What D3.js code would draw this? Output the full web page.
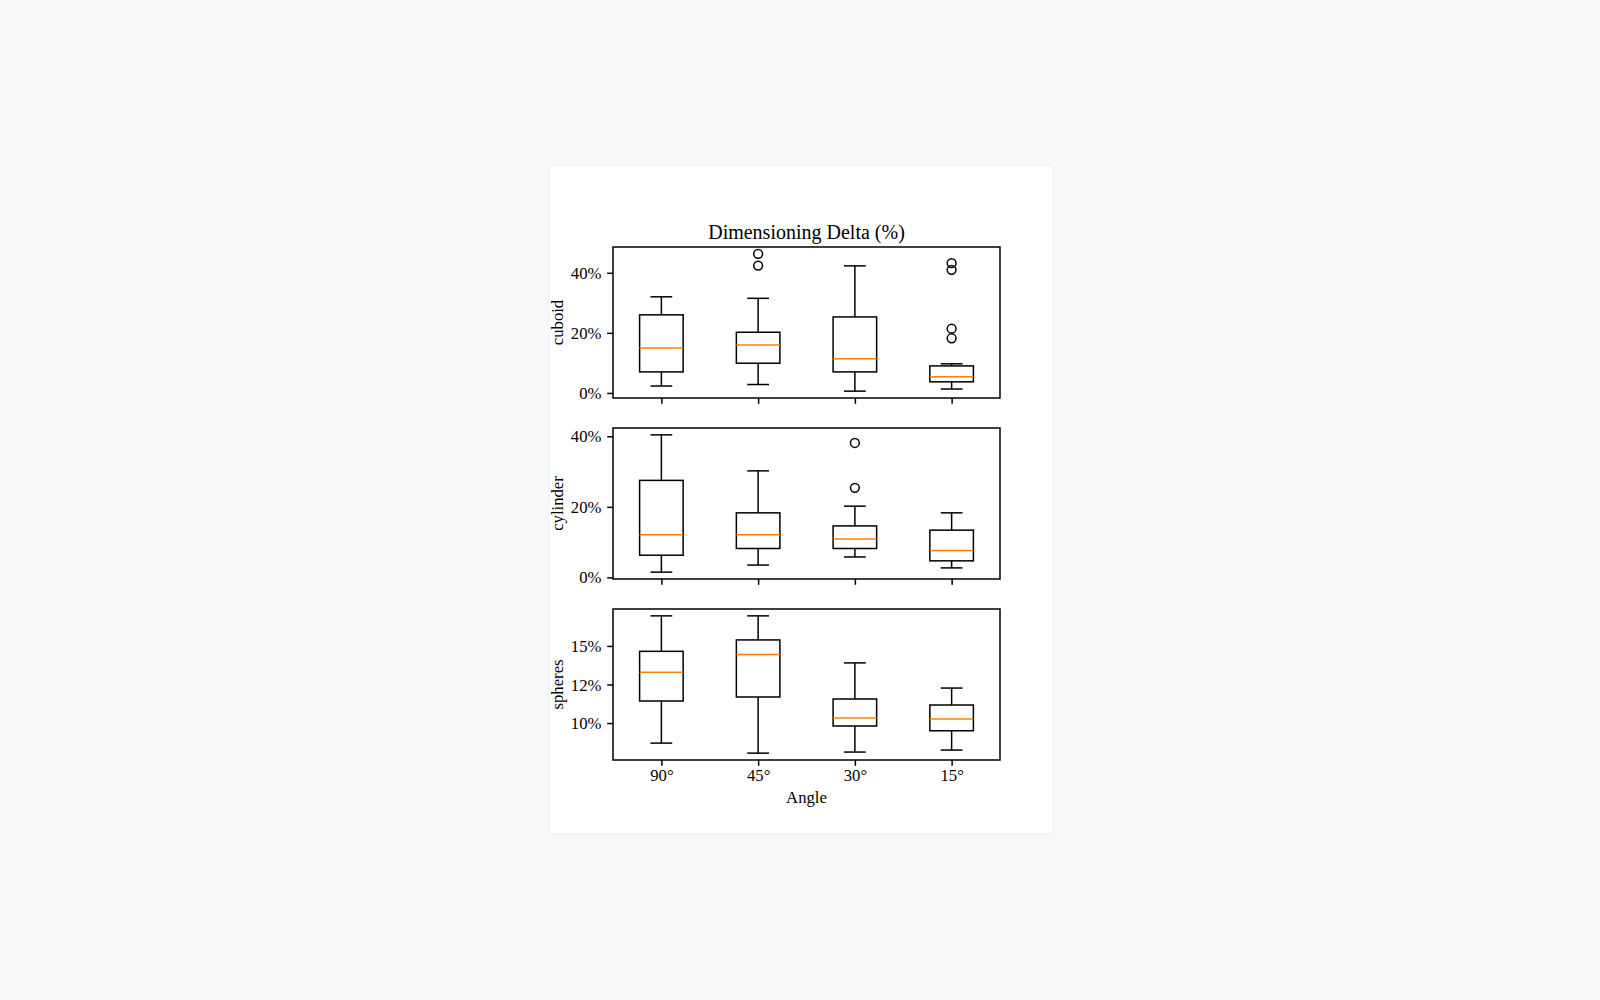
<!DOCTYPE html>
<html>
<head>
<meta charset="utf-8">
<script src="https://cdn.jsdelivr.net/npm/d3@7"></script>
<style>
  html, body { margin: 0; padding: 0; background: #f8f9fb; }
  svg { display: block; }
  text { font-family: "Liberation Serif", "Times New Roman", "DejaVu Serif", serif; fill: #000; }
</style>
</head>
<body>
<svg id="chart" width="1600" height="1000"></svg>
<script>
// ---------------- data ----------------
const categories = ["90°", "45°", "30°", "15°"];
const shapes = ["cuboid", "cylinder", "spheres"];

// per category: [whiskerLow, Q1, median, Q3, whiskerHigh]  (percent)
const cuboidStats = [
  [2.3, 7.0, 15.0, 26.0, 32.0],
  [2.8, 9.9, 16.0, 20.2, 31.5],
  [0.6, 7.0, 11.4, 25.3, 42.3],
  [1.3, 3.7, 5.4, 9.0, 9.7]
];
const cuboidOutliers = [[], [46.3, 42.4], [], [43.2, 41.0, 21.4, 18.2]];

const cylinderStats = [
  [1.5, 6.3, 12.1, 27.5, 40.4],
  [3.5, 8.2, 12.1, 18.3, 30.2],
  [5.8, 8.2, 10.9, 14.6, 20.2],
  [2.7, 4.7, 7.6, 13.4, 18.3]
];
const cylinderOutliers = [[], [], [38.1, 25.4], []];

const spheresStats = [
  [8.70, 11.43, 13.29, 14.65, 16.95],
  [8.05, 11.69, 14.45, 15.39, 16.95],
  [8.12, 9.81, 10.32, 11.56, 13.90],
  [8.25, 9.50, 10.26, 11.17, 12.27]
];
const spheresOutliers = [[], [], [], []];

const cuboidTicks = [0, 20, 40];
const cuboidTickLabels = ["0%", "20%", "40%"];
const cylinderTicks = [0, 20, 40];
const cylinderTickLabels = ["0%", "20%", "40%"];
const spheresTicks = [10, 12.5, 15];
const spheresTickLabels = ["10%", "12%", "15%"];

const titleText = "Dimensioning Delta (%)";
const xLabelText = "Angle";

// ---------------- layout ----------------
const panels = [
  { name: shapes[0], stats: cuboidStats, outliers: cuboidOutliers, ticks: cuboidTicks, labels: cuboidTickLabels },
  { name: shapes[1], stats: cylinderStats, outliers: cylinderOutliers, ticks: cylinderTicks, labels: cylinderTickLabels },
  { name: shapes[2], stats: spheresStats, outliers: spheresOutliers, ticks: spheresTicks, labels: spheresTickLabels }
];

const fig = { x: 550, y: 166, w: 502, h: 667 };
const plotLeft = 613, plotRight = 1000;
const panelTops = [247, 428, 609];
const panelH = 151;
const lw = 1.5;
const tickLen = 5.8;
const fontTick = 16.7;
const medianColor = "#ff7f0e";

const svg = d3.select("#chart");

const defs = svg.append("defs");
const filt = defs.append("filter").attr("id", "shadow").attr("x", "-10%").attr("y", "-10%").attr("width", "120%").attr("height", "120%");
filt.append("feDropShadow").attr("dx", 0).attr("dy", 1).attr("stdDeviation", 2).attr("flood-color", "#000").attr("flood-opacity", 0.05);

svg.append("rect")
  .attr("x", fig.x).attr("y", fig.y).attr("width", fig.w).attr("height", fig.h)
  .attr("fill", "#ffffff").attr("filter", "url(#shadow)");

const positions = categories.map((c, i) => i + 1);
const x = d3.scaleLinear().domain([0.5, categories.length + 0.5]).range([plotLeft, plotRight]);
const boxW = 0.45, capW = boxW / 2;

panels.forEach((p, pi) => {
  const top = panelTops[pi];
  const bottom = top + panelH;
  const allVals = p.stats.flat().concat(p.outliers.flat());
  const lo = d3.min(allVals), hi = d3.max(allVals);
  const m = (hi - lo) * 0.05;
  const y = d3.scaleLinear().domain([lo - m, hi + m]).range([bottom, top]);

  const g = svg.append("g");

  // boxes
  p.stats.forEach((s, i) => {
    const cx = x(positions[i]);
    const bx0 = x(positions[i] - boxW / 2), bx1 = x(positions[i] + boxW / 2);
    const cx0 = x(positions[i] - capW / 2), cx1 = x(positions[i] + capW / 2);
    const [wl, q1, med, q3, wh] = s;
    const line = (x1, y1, x2, y2, col) => g.append("line")
      .attr("x1", x1).attr("y1", y1).attr("x2", x2).attr("y2", y2)
      .attr("stroke", col || "#000").attr("stroke-width", lw);
    // whiskers
    line(cx, y(q1), cx, y(wl));
    line(cx, y(q3), cx, y(wh));
    // caps
    line(cx0, y(wl), cx1, y(wl));
    line(cx0, y(wh), cx1, y(wh));
    // box
    g.append("rect")
      .attr("x", bx0).attr("y", y(q3)).attr("width", bx1 - bx0).attr("height", y(q1) - y(q3))
      .attr("fill", "none").attr("stroke", "#000").attr("stroke-width", lw);
    // median
    line(bx0, y(med), bx1, y(med), medianColor);
    // outliers
    p.outliers[i].forEach(v => {
      g.append("circle").attr("cx", cx).attr("cy", y(v)).attr("r", 4.4)
        .attr("fill", "none").attr("stroke", "#000").attr("stroke-width", lw);
    });
  });

  // frame
  g.append("rect")
    .attr("x", plotLeft).attr("y", top).attr("width", plotRight - plotLeft).attr("height", panelH)
    .attr("fill", "none").attr("stroke", "#000").attr("stroke-width", lw);

  // y axis
  const yAxis = d3.axisLeft(y).tickValues(p.ticks)
    .tickFormat((d, i) => p.labels[i]).tickSize(tickLen).tickPadding(5.8);
  const ya = svg.append("g").attr("transform", `translate(${plotLeft},0)`).call(yAxis);
  ya.select(".domain").remove();
  ya.selectAll(".tick line").attr("stroke", "#000").attr("stroke-width", lw);
  ya.selectAll(".tick text").attr("font-size", fontTick).attr("dy", "0.33em")
    .style("font-family", '"Liberation Serif", "Times New Roman", serif').attr("fill", "#000");

  // x axis
  const xAxis = d3.axisBottom(x).tickValues(positions)
    .tickFormat((d, i) => pi === panels.length - 1 ? categories[i] : "")
    .tickSize(tickLen).tickPadding(3);
  const xa = svg.append("g").attr("transform", `translate(0,${bottom})`).call(xAxis);
  xa.select(".domain").remove();
  xa.selectAll(".tick line").attr("stroke", "#000").attr("stroke-width", lw);
  xa.selectAll(".tick text").attr("font-size", fontTick)
    .style("font-family", '"Liberation Serif", "Times New Roman", serif').attr("fill", "#000");

  // y label
  svg.append("text")
    .attr("transform", `translate(562.5,${(top + bottom) / 2}) rotate(-90)`)
    .attr("text-anchor", "middle").attr("font-size", fontTick)
    .text(p.name);
});

// title
svg.append("text")
  .attr("x", (plotLeft + plotRight) / 2).attr("y", 239)
  .attr("text-anchor", "middle").attr("font-size", 20)
  .text(titleText);

// x label
svg.append("text")
  .attr("x", (plotLeft + plotRight) / 2).attr("y", 803)
  .attr("text-anchor", "middle").attr("font-size", fontTick)
  .text(xLabelText);
</script>
</body>
</html>
